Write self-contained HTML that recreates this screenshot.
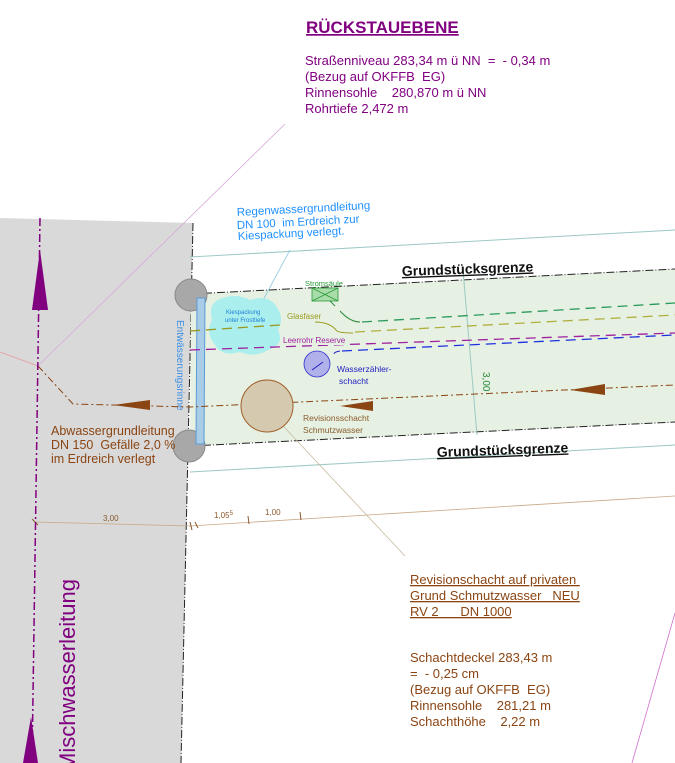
<!DOCTYPE html>
<html><head><meta charset="utf-8"><style>
html,body{margin:0;padding:0;background:#fff;}
svg{display:block;font-family:"Liberation Sans",Arial,sans-serif;}
text{white-space:pre;}
</style></head><body>
<svg width="675" height="763" viewBox="0 0 675 763" xmlns="http://www.w3.org/2000/svg" xml:space="preserve">
<polygon points="0,218 193,223 181,763 0,763" fill="#d9d9d9"/>
<line x1="193" y1="223" x2="181" y2="763" stroke="#222" stroke-width="1" stroke-dasharray="8,2,1,2"/>
<polygon points="191,294 675,269 675,422 190,446" fill="#e6f1e3"/>
<line x1="191" y1="294" x2="675" y2="269" stroke="#222" stroke-width="1" stroke-dasharray="8,2,1,2"/>
<line x1="190" y1="446" x2="675" y2="422" stroke="#222" stroke-width="1" stroke-dasharray="8,2,1,2"/>
<line x1="190" y1="257" x2="675" y2="230" stroke="#9cc9c4" stroke-width="1"/>
<line x1="190" y1="472" x2="675" y2="445" stroke="#9cc9c4" stroke-width="1"/>
<line x1="463" y1="270" x2="477" y2="435" stroke="#9cc9c4" stroke-width="1"/>
<text x="483" y="372" font-size="10" fill="#2a8a3a" transform="rotate(90 483 372)">3,00</text>
<line x1="38" y1="366" x2="285" y2="124" stroke="#d8a8d8" stroke-width="0.8"/>
<line x1="0" y1="352" x2="38" y2="366" stroke="#e89a9a" stroke-width="0.8"/>
<line x1="675" y1="613" x2="632" y2="763" stroke="#d070d0" stroke-width="0.8"/>
<line x1="270" y1="412" x2="405" y2="556" stroke="#c8b8a0" stroke-width="0.8"/>
<line x1="290" y1="250" x2="262" y2="302" stroke="#8fc8e0" stroke-width="0.8"/>
<line x1="35" y1="522" x2="190" y2="526" stroke="#c8a888" stroke-width="0.8"/>
<line x1="190" y1="526" x2="675" y2="496" stroke="#c8a888" stroke-width="0.8"/>
<text x="103" y="521" font-size="8" fill="#8b5a2b">3,00</text>
<text x="214" y="518" font-size="8" fill="#8b5a2b">1,05<tspan font-size="6" dy="-3">5</tspan></text>
<text x="265" y="515" font-size="8" fill="#8b5a2b">1,00</text>
<g stroke="#8b5a2b" stroke-width="1">
<line x1="32" y1="519" x2="38" y2="525"/><line x1="190" y1="522" x2="192" y2="530"/>
<line x1="195" y1="522" x2="198" y2="528"/><line x1="248" y1="516" x2="249" y2="524"/><line x1="300" y1="512" x2="301" y2="520"/>
</g>
<circle cx="191" cy="295" r="16" fill="#a8a8a8" stroke="#888" stroke-width="1"/>
<circle cx="189" cy="446" r="16" fill="#a8a8a8" stroke="#888" stroke-width="1"/>
<polygon points="197,298 205,298 204,444 196,444" fill="#a9cde6" stroke="#5b9bd5" stroke-width="1"/>
<text x="177" y="320" font-size="10" fill="#3a8ee6" transform="rotate(90 177 320)">Entwässerungsrinne</text>
<path d="M218,300 Q235,292 250,300 Q268,294 276,306 Q285,318 278,330 Q285,345 268,350 Q255,358 240,352 Q222,357 215,345 Q205,333 212,320 Q208,305 218,300Z" fill="#aaeeee"/>
<text x="226" y="314" font-size="6" fill="#1e7fd6">Kiespackung</text>
<text x="225" y="322" font-size="6" fill="#1e7fd6">unter Frosttiefe</text>
<text x="305" y="286" font-size="7.5" fill="#2a9a3a">Stromsäule</text>
<rect x="312" y="288" width="26" height="13" fill="#a8dca8" stroke="#2a9a3a" stroke-width="0.8"/>
<path d="M312,288 L338,301 M338,288 L312,301" stroke="#2a9a3a" stroke-width="0.8"/>
<path d="M330,301 L335,306 M340,311 Q350,322 360,322" stroke="#2a8a3a" stroke-width="1" fill="none"/>
<line x1="362" y1="322" x2="675" y2="303" stroke="#2a9a5a" stroke-width="1.3" stroke-dasharray="10,6"/>
<line x1="190" y1="331" x2="280" y2="325" stroke="#9a9a20" stroke-width="1.3" stroke-dasharray="10,6"/>
<text x="287" y="319" font-size="8" fill="#9a9a20">Glasfaser</text>
<path d="M315,322 Q330,322 337,331 Q340,333 353,333" stroke="#9a9a20" stroke-width="1" fill="none"/>
<line x1="355" y1="332" x2="675" y2="315" stroke="#b0b040" stroke-width="1.3" stroke-dasharray="10,6"/>
<line x1="190" y1="350" x2="675" y2="333" stroke="#a020a0" stroke-width="1.3" stroke-dasharray="10,6"/>
<rect x="282" y="335" width="63" height="10" fill="#e6f1e3"/>
<text x="283" y="343" font-size="8" fill="#a020a0">Leerrohr Reserve</text>
<circle cx="317" cy="364" r="13" fill="#b0b0ea" stroke="#3030d0" stroke-width="0.8"/>
<line x1="312" y1="370" x2="323" y2="362" stroke="#2020c0" stroke-width="1"/>
<path d="M334,354 Q334,352 340,351" stroke="#2020c0" stroke-width="1" fill="none"/>
<line x1="342" y1="351" x2="675" y2="335" stroke="#2030e0" stroke-width="1.3" stroke-dasharray="10,6"/>
<text x="337" y="372" font-size="8.5" fill="#2020c0">Wasserzähler-</text>
<text x="339" y="384" font-size="8.5" fill="#2020c0">schacht</text>
<path d="M38,366 L73,404 L190,407 L675,385" stroke="#8b4513" stroke-width="1" fill="none" stroke-dasharray="7,3,2,3"/>
<polygon points="113,405 150,400 150,410" fill="#8b4513"/>
<polygon points="340,406 373,401 373,411" fill="#8b4513"/>
<polygon points="570,390 605,384 605,395" fill="#8b4513"/>
<circle cx="267" cy="406" r="26" fill="#d5c9b0" stroke="#a0602a" stroke-width="1"/>
<text x="303" y="421" font-size="8.5" fill="#8b5a2b">Revisionsschacht</text>
<text x="303" y="433" font-size="8.5" fill="#8b5a2b">Schmutzwasser</text>
<line x1="40" y1="218" x2="32" y2="763" stroke="#800080" stroke-width="1.5" stroke-dasharray="8,3,2,3"/>
<polygon points="40,250 32,310 48,310" fill="#800080"/>
<polygon points="31,717 23,763 38,763" fill="#800080"/>
<text x="75" y="771" font-size="22" fill="#800080" transform="rotate(-90 75 771)">Mischwasserleitung</text>
<g font-size="12.5" fill="#8b4513">
<text x="51" y="435">Abwassergrundleitung</text>
<text x="51" y="449">DN 150  Gefälle 2,0 %</text>
<text x="51" y="463">im Erdreich verlegt</text>
</g>
<g font-size="11.5" fill="#1e90ff">
<text x="237" y="216" transform="rotate(-3 237 216)">Regenwassergrundleitung</text>
<text x="237" y="229" transform="rotate(-3 237 229)">DN 100  im Erdreich zur</text>
<text x="238" y="240" transform="rotate(-3 238 240)">Kiespackung verlegt.</text>
</g>
<g font-size="14" font-weight="bold" fill="#111">
<text x="402" y="276" transform="rotate(-2 402 276)" text-decoration="underline">Grundstücksgrenze</text>
<text x="437" y="457" transform="rotate(-2 437 457)" text-decoration="underline">Grundstücksgrenze</text>
</g>
<text x="306" y="33" font-size="17" font-weight="bold" fill="#800080" text-decoration="underline">RÜCKSTAUEBENE</text>
<g font-size="13" fill="#800080">
<text x="305" y="65">Straßenniveau 283,34 m ü NN  =  - 0,34 m</text>
<text x="305" y="81">(Bezug auf OKFFB  EG)</text>
<text x="305" y="97">Rinnensohle    280,870 m ü NN</text>
<text x="305" y="113">Rohrtiefe 2,472 m</text>
</g>
<g font-size="13" fill="#8b4513">
<text x="410" y="584" text-decoration="underline">Revisionschacht auf privaten </text>
<text x="410" y="600" text-decoration="underline">Grund Schmutzwasser   NEU</text>
<text x="410" y="616" text-decoration="underline">RV 2      DN 1000</text>
<text x="410" y="662">Schachtdeckel 283,43 m</text>
<text x="410" y="678">=  - 0,25 cm</text>
<text x="410" y="694">(Bezug auf OKFFB  EG)</text>
<text x="410" y="710">Rinnensohle    281,21 m</text>
<text x="410" y="726">Schachthöhe    2,22 m</text>
</g>
</svg>
</body></html>
